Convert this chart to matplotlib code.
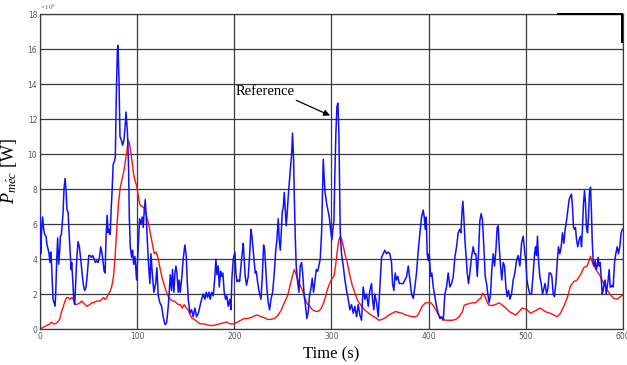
import matplotlib
matplotlib.use("Agg")
import matplotlib.pyplot as plt
from matplotlib.lines import Line2D

plt.rcParams['mathtext.fontset'] = 'custom'
plt.rcParams['mathtext.rm'] = 'Liberation Serif'
plt.rcParams['mathtext.it'] = 'Liberation Serif:italic'

# measured mechanical power (x 1e5 W), irregular time stamps (s)
blue_t = [0, 0.7, 1.7, 2.7, 3.8, 4.8, 6.2, 7.2, 8.2, 9.3, 10.3, 11, 12, 12.7, 13.4,
          14.4, 15.5, 16.2, 17.2, 18.2, 19.2, 20.3, 21, 22, 22.7, 23.7, 24.7, 25.8,
          26.8, 27.8, 28.9, 29.9, 30.9, 32, 32.6, 33.7, 34.7, 35.7, 36.8, 37.8, 39.2,
          40.5, 41.9, 43.3, 44.7, 46, 47.4, 48.8, 50.2, 51.5, 52.9, 54.3, 55.7, 57,
          58.4, 59.8, 61.2, 62.5, 63.6, 64.6, 66, 67, 68, 69.1, 70.1, 71.1, 72.2,
          73.2, 74.2, 75.3, 76.6,
          77.5, 78.5, 79.6, 80.2, 81.3, 82.3, 83.7, 85.0, 86.4, 87.8, 88.5, 89.9,
          90.5, 91.2, 91.9, 92.9, 94.3, 95.3, 96.4,
          97.7, 99.4, 101.1, 102.5, 103.9, 105.2, 106.3, 107.3, 108.3, 109.4, 110.4,
          111.8, 113.1, 114.2, 115.5, 117.2, 119, 120.3, 121.7, 123.4, 125.1, 126.8,
          128.6, 130.3, 132, 133, 134.1, 135.4, 136.4, 137.8, 138.9, 139.9, 140.9,
          142.3, 143.3, 144.3, 145.7, 147.4, 149.1, 150.5, 151.5, 152.6, 154.3, 156,
          157.7, 159.4, 161.1, 162.9, 164.6, 166.3, 168, 169.7, 171.1, 172.5, 173.8,
          175.2, 176.6, 178.3, 180, 181, 182.1, 183.4, 184.5, 185.8, 186.9, 188.2,
          189.6, 191, 192.3, 193.7, 195.4,
          196.5, 197.5, 198.9, 200.6, 201.6, 202.7, 204, 205.4, 206.8, 208.2, 209.2,
          210.2, 211.2, 212.6, 214.3, 215.7, 217.1, 218.1, 219.1, 220.5, 221.5,
          222.6, 223.9, 225.6, 227.4, 228.7, 230.1, 231.1, 232.2, 233.5, 234.9,
          236.3, 237.7, 239.4, 241.1, 242.5, 243.8, 245.2, 246.2, 247.3, 248.3,
          249.3, 250.3, 251.4, 252.4, 253.4, 254.5, 255.5, 256.9, 257.9, 258.9,
          259.9, 261, 261.7, 262.7, 263.7, 265.1, 266.5, 267.8, 269.2, 270.6, 271.9,
          273.3, 274.7, 276.1, 277.4, 278.8, 280.2, 281.5, 282.9, 284.3, 285.7, 287,
          288.4, 289.8,
          291.5, 293.2, 294.9, 296.3, 297.7, 299, 300.4, 301.4, 302.5, 303.5, 304.5,
          305.6, 306.6, 307.6, 308.3, 309, 310.3, 312.1, 313.8, 315.5, 317.2, 318.9,
          320.6, 322.4, 324, 325.8, 327.5, 329.2, 330.9, 332.6, 334.4, 336.1, 337.8,
          339.5, 341.2, 342.2, 343.6, 344.6, 346.4, 348.1, 349.8, 351.5, 353.2,
          354.9, 356.6, 358.4, 360.1, 361.8, 362.8, 364.2, 365.6, 366.9, 368.3, 369.7,
          370.4, 373.8, 377.3, 379, 380.7, 382.4, 384.1, 385.8, 387.5, 389.3, 391,
          392.7, 394.4, 395.4, 396.5, 397.5, 398.5, 399.5, 400.6, 402, 403.3, 404.7,
          406.4, 408.1, 409.8, 411.6, 413.3, 415, 416.7, 418.4, 420.1, 421.8, 423.6,
          425.3, 427, 428.7, 430.4, 432.1, 433.2, 434.2, 435.2, 436.2, 437.3, 438.3,
          439.7, 441, 442.4, 444.1, 445.8, 447.2, 448.6, 450, 451.3, 452.7, 454.1,
          455.4, 456.8, 458.2, 459.6, 460.9, 462.3, 463.7, 465, 466.4, 467.8, 469.2,
          470.5, 471.6, 472.6, 474, 475.3, 476.7, 478.1, 479.5, 480.8, 482.2, 483.6,
          485.3, 487, 488.7, 490.4, 492.1, 493.9, 495.6, 497.3, 499, 500, 501.1,
          502.4, 504.1, 505.9, 507.6, 509, 510, 511, 512, 513.1, 514.4, 515.8, 517.2,
          518.5, 519.9, 521.3, 522.7, 524, 525.4, 526.8, 528.2, 529.5, 530.9, 532.3,
          533.6, 535, 536.4, 537.7, 539.1, 540.5, 541.9, 543.2, 544.6, 546, 547, 548,
          549.1, 550.1, 551.1, 552.2, 553.5, 554.9, 556.3, 557.3, 558.3, 559.4,
          560.4, 561.4, 562.4, 563.5, 564.5, 565.5, 566.6, 567.6, 568.3, 569.3,
          570.3, 571.4, 572.4, 573.4, 574.4, 575.5, 576.5, 577.5, 578.6, 579.6,
          580.6, 581.6, 582.7, 583.7, 584.7, 585.8, 586.8, 587.8, 588.8, 589.9,
          591.3, 592.6, 594, 595.4, 596.7, 598.1, 599.5]
blue_p = [6.5, 4.3, 5.7, 6.4, 5.7, 5.4, 5.3, 4.8, 4.6, 4.3, 3.8, 4.4, 3.6, 2.6, 1.7,
          1.5, 1.3, 2.1, 4.0, 5.2, 3.7, 4.5, 5.3, 5.4, 5.9, 6.6, 8.0, 8.6,
          7.9, 6.8, 6.7, 5.5, 4.5, 3.4, 3.8, 2.8, 1.7, 1.4, 2.8, 4.0, 5.0,
          4.7, 4.0, 3.2, 2.5, 2.2, 2.4, 3.2, 4.2, 4.2, 4.1, 4.2, 4.0, 3.8,
          3.9, 3.8, 4.1, 4.7, 4.4, 4.0, 3.3, 3.2, 5.3, 6.5, 5.5, 5.7, 5.4,
          6.8, 7.9, 9.4, 9.6,
          9.8, 13.3, 15.9, 16.2, 14.2, 11.0, 10.8, 10.5, 10.8, 11.7, 12.4, 11.3,
          10.5, 9.1, 6.4, 4.7, 4.1, 4.5, 3.7,
          4.15, 2.8, 4.7, 6.3, 6.0, 6.4, 5.8, 6.8, 7.4, 6.4, 5.1,
          3.6, 2.6, 4.3, 3.2, 2.1, 2.6, 3.5, 1.9, 1.5, 1.3, 0.7,
          0.25, 0.35, 1.3, 2.1, 3.1, 2.2, 3.4, 2.1, 3.2, 3.6, 3.2,
          2.1, 2.8, 2.1, 2.8, 4.0, 4.8, 4.2, 2.8, 1.7, 0.9, 1.1,
          0.7, 1.2, 0.7, 0.9, 1.3, 1.7, 2.0, 1.7, 2.1, 1.8, 2.1,
          1.7, 2.1, 1.9, 3.0, 4.0, 3.1, 3.6, 2.4, 3.3, 3.0, 3.2,
          2.1, 1.7, 1.9, 1.3, 1.7,
          1.1, 2.9, 4.0, 4.4, 3.2, 2.7, 2.8, 2.7, 3.6, 4.4, 4.9,
          4.0, 3.0, 2.5, 3.0, 4.2, 5.7, 5.3, 4.7, 3.9, 3.2,
          3.3, 2.7, 2.1, 1.7, 2.9, 4.8, 4.6, 3.6, 2.3, 1.5,
          1.1, 1.7, 2.1, 3.2, 4.4, 5.1, 6.3, 5.1, 4.5, 5.5,
          6.7, 6.9, 7.8, 6.9, 5.9, 6.7, 7.6, 8.6, 9.3, 9.9,
          11.2, 9.7, 7.6, 5.3, 3.6, 2.7, 2.1, 3.6, 3.8, 3.0, 1.9,
          1.3, 0.6, 1.0, 1.9, 2.3, 2.9, 2.1, 2.7, 3.4, 3.3, 3.6,
          4.0, 5.5,
          9.7, 7.9, 7.2, 6.8, 6.4, 5.7, 5.1, 5.7, 6.2, 8.9, 11.2,
          12.7, 12.9, 11.2, 8.1, 5.5, 4.3, 3.6, 2.8, 2.2, 1.7, 1.1,
          1.4, 0.9, 1.3, 0.7, 1.4, 0.8, 0.5, 2.4, 1.7, 2.0, 1.3,
          2.2, 2.6, 1.7, 1.1, 2.0, 1.5, 0.7, 2.4, 4.1, 4.3,
          4.5, 4.3, 4.4, 4.3, 3.8, 2.6, 2.2, 3.2, 2.8, 3.0, 2.6,
          2.6, 2.6, 3.0, 3.6, 2.8, 2.0, 1.75, 2.4, 3.2, 4.5, 5.5,
          6.4, 6.8, 6.4, 5.7, 6.4, 4.3, 3.9, 4.3, 3.0, 3.2, 2.4,
          1.85, 1.3, 0.9, 0.6, 0.7, 0.5, 2.0, 2.4, 3.2, 2.4, 2.6,
          3.0, 4.1, 4.7, 5.5, 5.7, 5.5, 6.6, 7.3, 6.4, 5.1, 4.3,
          3.2, 2.6, 3.2, 4.1, 4.7, 4.3, 4.3, 3.0, 4.3, 6.2, 6.6,
          6.2, 4.7, 3.0, 2.6, 2.0, 1.5, 2.0, 3.4, 4.3, 3.6, 4.5,
          5.8, 5.9, 4.7, 3.6, 2.8, 3.8, 3.6, 2.4, 1.85, 2.2, 1.7,
          2.0, 2.8, 3.2, 3.9, 4.2, 3.6, 4.9, 5.3, 4.3, 3.9, 2.8,
          2.4, 2.0, 2.0, 3.2, 4.3, 4.7, 4.2, 5.3, 3.9, 3.0, 2.6, 2.0,
          2.3, 2.6, 2.0, 2.3, 3.2, 3.2, 3.0, 2.0, 1.85, 2.6, 3.8,
          4.7, 4.3, 4.7, 5.5, 4.9, 5.7, 6.2, 6.8, 7.4, 7.6, 7.7, 7.0,
          5.8, 5.7, 5.8, 5.1, 4.7, 5.1, 5.3, 4.7, 5.8, 7.2,
          7.9, 7.2, 5.8, 5.5, 6.4, 7.8, 8.1, 6.6, 5.1, 3.9,
          3.6, 3.9, 3.4, 3.6, 4.1, 3.6, 3.8, 3.0, 2.0, 2.2,
          2.6, 2.8, 2.0, 2.4, 2.8, 3.4, 2.4, 2.4, 2.5, 2.4,
          3.8, 4.3, 4.7, 4.3, 4.7, 5.5, 5.7]

# reference power profile (x 1e5 W)
red_t = [0, 3.4, 6.9, 10.3, 12, 13.7, 15.5, 17.2, 18.9, 20.6, 22.3, 24.1, 25.8, 27.5,
         29.2, 30.9, 32.6, 34.4, 36.1, 37.8, 39.5, 41.2, 43, 44.7, 46.4, 48.1, 49.8,
         51.5, 53.3, 55, 58.4, 61.9, 63.6, 65.3, 67, 68.7, 70.4, 72.2, 73.9, 75.6,
         77.3, 79, 80.8, 82.5, 84.2, 85.9, 87.6, 89.3, 90.7, 92.1, 93.5, 94.8, 96.2,
         97.7, 99.4, 101.1, 102.8, 105.2, 107.3, 109.4, 111.4, 113.5, 115.5, 117.6,
         119.6, 121.7, 123.8, 125.8, 127.9, 129.9, 132, 134, 136.1, 138.2, 140.2,
         142.3, 144.3, 146.4, 148.5, 150.5, 152.6, 154.6, 156.7, 158.7, 161.1, 164.6,
         168, 171.4, 174.9, 178.3, 181.7, 185.1, 188.6, 192, 195.4,
         199.9, 203.4, 206.8, 210.2, 213.6, 217.1, 220.5, 223.9, 227.4, 230.8, 234.2,
         237.7, 241.1, 244.5, 248, 251.4, 254.8, 257.5, 259.9, 261.7, 263.4, 265.1,
         266.8, 268.5, 270.2, 271.9, 273.7, 275.4, 277.1, 278.8, 280.5, 282.2, 284,
         285.7, 287.4, 289.1, 290.8, 292.5, 294.2, 296, 297.7, 299.4,
         300.7, 302.4, 304.2, 305.9, 307.6, 309.3, 311, 312.7, 314.4, 316.2, 317.9,
         319.6, 321.3, 323, 324.7, 326.4, 328.2, 329.9, 331.6, 335, 338.5, 341.9,
         345.3, 348.7, 352.2, 355.6, 359, 362.5, 365.9, 369.3, 372.7, 376.2, 379.6,
         383, 386.5, 388.2, 389.9, 391.6, 393.3, 396.8,
         399.8, 402.2, 404.6, 407.4, 410.1, 412.5, 414.9, 417.7, 421.1, 424.5, 428,
         431.4, 434.8, 436.5, 438.2, 441.7, 445.1, 448.5, 452, 453.7, 455.4, 457.1,
         458.8, 460.5, 462.3, 465.7, 469.1, 472.5, 476, 479.4, 482.8, 486.3, 489.7,
         493.1, 496.5,
         501.3, 504.8, 508.2, 511.6, 515, 518.5, 521.9, 525.3, 528.8, 532.2, 535.6,
         539.1, 542.5, 545.9, 549.3, 552.8, 556.2, 559.6, 563.1, 564.8, 566.5, 568.2,
         569.9, 571.6, 573.3, 576.8, 580.2, 583.6, 587.1, 590.5, 593.9, 597.3, 600]
red_p = [0, 0.1, 0.2, 0.3, 0.4, 0.3, 0.3, 0.35, 0.45, 0.6, 1.0, 1.3, 1.6, 1.8,
         1.8, 1.7, 1.8, 1.7, 1.4, 1.4, 1.45, 1.5, 1.6, 1.5, 1.4, 1.3, 1.35,
         1.4, 1.5, 1.5, 1.6, 1.6, 1.7, 1.8, 1.7, 1.8, 2.0, 2.15, 2.45, 3.0,
         4.15, 5.7, 7.2, 8.05, 8.5, 8.9, 9.5, 10.1, 10.8, 10.6, 10.1, 9.5, 8.9,
         8.5, 8.2, 7.6, 7.1, 7.0, 6.9, 6.5, 6.1, 5.5, 4.9, 4.3,
         4.4, 4.0, 3.4, 2.9, 2.5, 2.15, 1.85, 1.7, 1.6, 1.6, 1.5,
         1.4, 1.4, 1.2, 1.4, 1.2, 1.1, 0.8, 0.6, 0.55, 0.45, 0.3,
         0.3, 0.25, 0.2, 0.2, 0.25, 0.3, 0.35, 0.4, 0.3,
         0.3, 0.4, 0.5, 0.6, 0.6, 0.65, 0.75, 0.8, 0.7, 0.65, 0.55,
         0.55, 0.6, 0.75, 1.05, 1.5, 1.9, 2.5, 3.05, 3.4, 3.15, 2.85,
         2.6, 2.4, 2.2, 1.9, 1.6, 1.4, 1.35, 1.2, 1.1, 1.05, 1.0,
         1.0, 1.05, 1.15, 1.35, 1.6, 1.9, 2.3, 2.55, 2.75,
         2.9, 3.0, 3.6, 4.45, 5.1, 5.3, 5.0, 4.6, 4.15, 3.8, 3.3,
         2.9, 2.5, 2.25, 1.95, 1.7, 1.5, 1.4, 1.25, 1.05, 0.9, 0.75,
         0.65, 0.5, 0.55, 0.65, 0.8, 0.9, 1.0, 0.95, 0.9, 0.8, 0.75,
         0.7, 0.7, 0.75, 0.9, 1.1, 1.3, 1.5,
         1.5, 1.5, 1.35, 1.1, 0.8, 0.65, 0.55, 0.5, 0.5, 0.5, 0.55,
         0.7, 1.0, 1.35, 1.4, 1.45, 1.5, 1.5, 1.7, 1.75, 2.05, 1.95,
         1.75, 1.5, 1.35, 1.35, 1.4, 1.5, 1.35, 1.2, 1.0, 0.9, 0.8,
         1.0, 1.2,
         1.1, 0.9, 1.0, 1.1, 1.2, 1.05, 0.95, 0.9, 0.8, 0.7, 0.9,
         1.3, 1.75, 2.45, 2.7, 2.8, 3.1, 3.5, 3.6, 3.85, 4.15, 3.85,
         3.6, 3.5, 3.3, 3.0, 2.6, 2.25, 1.95, 1.75, 1.7, 1.85, 1.95]

x_ticks = [0, 100, 200, 300, 400, 500, 600]
y_ticks = [0, 2, 4, 6, 8, 10, 12, 14, 16, 18]

fig = plt.figure(figsize=(6.27, 3.65), dpi=100)
ax = fig.add_axes([0.0638, 0.0986, 0.9298, 0.863])

ax.plot(blue_t, blue_p, color='#1010ff', lw=1.1, zorder=3)
ax.plot(red_t, red_p, color='#ff1010', lw=1.0, zorder=2)

ax.set_xlim(0, 600)
ax.set_ylim(0, 18)
ax.set_xticks(x_ticks)
ax.set_yticks(y_ticks)
ax.grid(True, color='#3a3a3a', lw=0.9)
ax.tick_params(direction='in', length=2, width=0.6, labelsize=5.5,
               labelcolor='#555555', colors='#333333', pad=2)
for side in ['left', 'bottom', 'right', 'top']:
    ax.spines[side].set_color('#3a3a3a')
    ax.spines[side].set_linewidth(0.9)

ax.text(0.0, 1.005, r'$\times\,10^5$', transform=ax.transAxes,
        fontsize=5, color='#555555', ha='left', va='bottom')

ax.set_xlabel('Time (s)', family='Liberation Serif', fontsize=12, labelpad=4)
ax.set_ylabel(r'$P_{m\acute{e}c}$ [W]', family='Liberation Serif',
              fontsize=13, labelpad=6)

ax.annotate('Reference', xy=(298.5, 12.2), xytext=(201.5, 13.6),
            family='Liberation Serif', fontsize=10.5, va='center',
            arrowprops=dict(arrowstyle='-|>', color='black', lw=0.9,
                            shrinkA=0, shrinkB=0, mutation_scale=9,
                            relpos=(0.92, 0.0)))

# corner of the legend frame clipped at the top right
ax.add_line(Line2D([0.888, 0.998], [1.0, 1.0], transform=ax.transAxes,
                   color='black', lw=1.4, clip_on=False, zorder=5))
ax.add_line(Line2D([0.998, 0.998], [1.0, 0.91], transform=ax.transAxes,
                   color='black', lw=1.4, clip_on=False, zorder=5))

fig.savefig('out.png', dpi=100)
